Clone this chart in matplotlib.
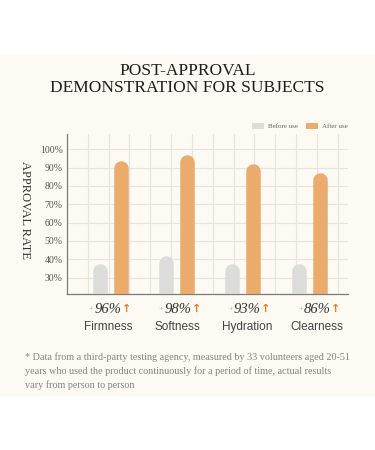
import matplotlib.pyplot as plt
from matplotlib.patches import Rectangle, Patch
import numpy as np

# data
categories = ['Firmness', 'Softness', 'Hydration', 'Clearness']
before_use = [37.5, 41.8, 37.5, 37.5]
after_use = [93.8, 96.9, 92.0, 86.9]
gain_labels = ['96%', '98%', '93%', '86%']
yticks = [30, 40, 50, 60, 70, 80, 90, 100]
ytick_labels = ['30%', '40%', '50%', '60%', '70%', '80%', '90%', '100%']

GRAY = '#dcdcdb'
ORANGE = '#eaab6c'
CREAM = '#fdf9f3'
SERIF = ['Liberation Serif', 'DejaVu Serif']
SANS = ['Liberation Sans', 'DejaVu Sans']

fig = plt.figure(figsize=(3.75, 4.5), dpi=100)
fig.patches.append(Rectangle((0, 0.122), 1, 0.756, transform=fig.transFigure,
                             color=CREAM, zorder=-5))

ax = fig.add_axes([0.1787, 0.3467, 0.7493, 0.3556])
ax.set_facecolor('none')
ax.set_xlim(0, 13.5)
ax.set_ylim(21.1, 108.3)

# grid
ax.set_xticks(np.arange(1, 14), minor=True)
ax.set_yticks(yticks)
ax.set_yticklabels(ytick_labels, fontfamily=SERIF, fontsize=7, color='#555555')
ax.grid(which='minor', axis='x', color='#e7e3dd', lw=0.8)
ax.grid(which='major', axis='y', color='#e7e3dd', lw=0.8)
ax.set_axisbelow(True)
ax.tick_params(which='both', length=0)
ax.tick_params(axis='y', pad=3)
for s in ['top', 'right']:
    ax.spines[s].set_visible(False)
for s in ['left', 'bottom']:
    ax.spines[s].set_color('#7a7a7a')
    ax.spines[s].set_linewidth(0.9)

# rounded bars (round-capped thick lines)
bar_px = 14.5
lw_pt = bar_px * 72 / fig.dpi
px_per_unit = ax.get_position().height * fig.get_figheight() * fig.dpi / (108.3 - 21.1)
cap = (bar_px / 2) / px_per_unit
groups = 2.07 + 3.19 * np.arange(len(categories))
for g, b, a in zip(groups, before_use, after_use):
    ax.plot([g - 0.5, g - 0.5], [0, b - cap], color=GRAY, lw=lw_pt,
            solid_capstyle='round', zorder=3)
    ax.plot([g + 0.5, g + 0.5], [0, a - cap], color=ORANGE, lw=lw_pt,
            solid_capstyle='round', zorder=3)

ax.set_xticks([])

# labels under the bars
label_pos = 1.97 + 3.35 * np.arange(len(categories))
for x, cat, gain in zip(label_pos, categories, gain_labels):
    ax.annotate(gain, xy=(x, 0), xycoords=('data', 'axes fraction'),
                xytext=(0, -11), textcoords='offset points', ha='center', va='center',
                fontfamily=SERIF, fontstyle='italic', fontsize=10.5, color='#333333')
    ax.annotate('+', xy=(x, 0), xycoords=('data', 'axes fraction'),
                xytext=(-10.5, -11.3), textcoords='offset points', ha='right', va='center',
                fontfamily=SANS, fontsize=5.5, color='#bbbbbb')
    ax.annotate('\u2191', xy=(x, 0), xycoords=('data', 'axes fraction'),
                xytext=(10, -10.5), textcoords='offset points', ha='left', va='center',
                fontfamily=['DejaVu Sans'], fontweight='bold', fontsize=8, color='#e0801e')
    ax.annotate(cat, xy=(x, 0), xycoords=('data', 'axes fraction'),
                xytext=(0, -23.5), textcoords='offset points', ha='center', va='center',
                fontfamily=SANS, fontsize=8.5, color='#444444')

# legend
handles = [Patch(facecolor=GRAY, edgecolor='none', label='Before use'),
           Patch(facecolor=ORANGE, edgecolor='none', label='After use')]
ax.legend(handles=handles, loc='lower right', bbox_to_anchor=(1.0, 1.03), ncol=2,
          frameon=False, borderaxespad=0, borderpad=0, handlelength=1.7,
          handleheight=0.9, handletextpad=0.6, columnspacing=1.2,
          prop={'family': SERIF, 'size': 5})
for t in ax.get_legend().get_texts():
    t.set_color('#666666')

# y axis title
fig.text(25 / 375, 1 - 210 / 450, 'APPROVAL RATE', rotation=-90, ha='center', va='center',
         fontfamily=SERIF, fontsize=9, color='#333333')

# title
fig.text(0.5, 1 - 70.5 / 450, 'POST-APPROVAL', ha='center', va='center',
         fontfamily=SERIF, fontsize=12.5, color='#1e1e1e')
fig.text(0.5, 1 - 88 / 450, 'DEMONSTRATION FOR SUBJECTS', ha='center', va='center',
         fontfamily=SERIF, fontsize=12.5, color='#1e1e1e')

# footnote
note = ('* Data from a third-party testing agency, measured by 33 volunteers aged 20-51\n'
        'years who used the product continuously for a period of time, actual results\n'
        'vary from person to person')
fig.text(25 / 375, 1 - 371 / 450, note, ha='left', va='center', linespacing=1.55,
         fontfamily=SERIF, fontsize=7.3, color='#858585')

fig.savefig('out.png', dpi=100)
